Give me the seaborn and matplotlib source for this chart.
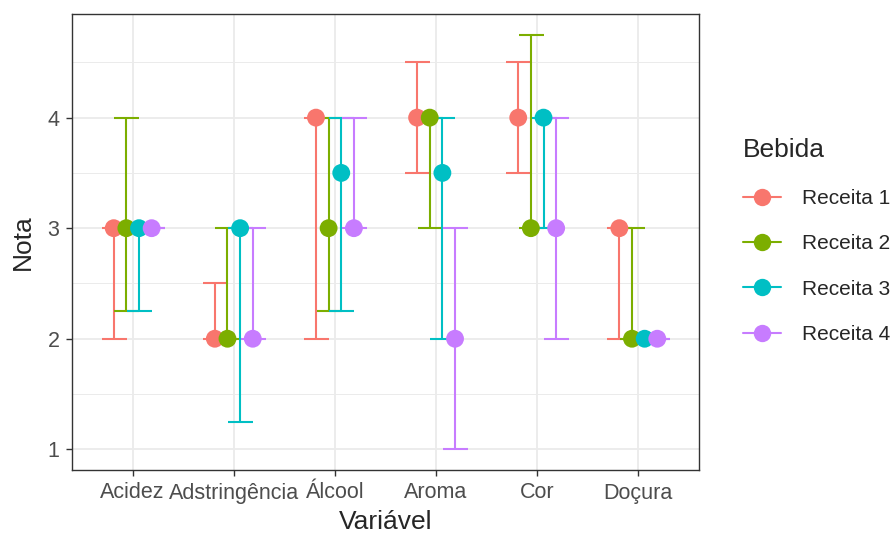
import matplotlib
matplotlib.use('Agg')
import matplotlib.pyplot as plt
from matplotlib.lines import Line2D
from matplotlib.ticker import MultipleLocator
import numpy as np
import pandas as pd
import seaborn as sns

sns.set_style('white')
plt.rcParams['font.family'] = ['Liberation Sans', 'DejaVu Sans']

# dados
variaveis = ['Acidez', 'Adstringência', 'Álcool', 'Aroma', 'Cor', 'Doçura']
receitas = ['Receita 1', 'Receita 2', 'Receita 3', 'Receita 4']
cores = ['#F8766D', '#7CAE00', '#00BFC4', '#C77CFF']

mediana = {
    'Receita 1': [3, 2, 4, 4, 4, 3],
    'Receita 2': [3, 2, 3, 4, 3, 2],
    'Receita 3': [3, 3, 3.5, 3.5, 4, 2],
    'Receita 4': [3, 2, 3, 2, 3, 2],
}
inferior = {
    'Receita 1': [2, 2, 2, 3.5, 3.5, 2],
    'Receita 2': [2.25, 2, 2.25, 3, 3, 2],
    'Receita 3': [2.25, 1.25, 2.25, 2, 3, 2],
    'Receita 4': [3, 2, 3, 1, 2, 2],
}
superior = {
    'Receita 1': [3, 2.5, 4, 4.5, 4.5, 3],
    'Receita 2': [4, 3, 4, 4, 4.75, 3],
    'Receita 3': [3, 3, 4, 4, 4, 2],
    'Receita 4': [3, 3, 4, 3, 4, 2],
}

linhas = []
for r in receitas:
    for i, v in enumerate(variaveis):
        linhas.append({'Variável': v, 'Bebida': r, 'Nota': mediana[r][i],
                       'lo': inferior[r][i], 'hi': superior[r][i]})
df = pd.DataFrame(linhas)

# dodge (largura 0.5)
largura = 0.5
desloc = {r: -largura / 2 + largura / len(receitas) * (k + 0.5) for k, r in enumerate(receitas)}
df['x'] = df['Variável'].map({v: i for i, v in enumerate(variaveis)}) + df['Bebida'].map(desloc)

fig = plt.figure(figsize=(8.96, 5.35), dpi=100)
ax = fig.add_axes([72 / 896, 1 - 470 / 535, (699 - 72) / 896, (470 - 14) / 535])

paleta = dict(zip(receitas, cores))
for r in receitas:
    d = df[df['Bebida'] == r]
    ax.errorbar(d['x'], d['Nota'], yerr=[d['Nota'] - d['lo'], d['hi'] - d['Nota']],
                fmt='none', ecolor=paleta[r], elinewidth=1.5, capsize=9, capthick=1.5, zorder=2)

sns.scatterplot(data=df, x='x', y='Nota', hue='Bebida', palette=paleta, s=165,
                linewidth=0, legend=False, ax=ax, zorder=3)

ax.set_xlim(0.4 - 1, 6.6 - 1)
ax.set_ylim(0.8125, 4.9375)
ax.set_xticks(range(len(variaveis)))
ax.set_xticklabels(variaveis)
ax.yaxis.set_major_locator(MultipleLocator(1))
ax.yaxis.set_minor_locator(MultipleLocator(0.5))
ax.grid(True, which='major', color='#EBEBEB', linewidth=1.3, zorder=0)
ax.grid(True, which='minor', axis='y', color='#EBEBEB', linewidth=0.7, zorder=0)
ax.set_axisbelow(True)
for s in ax.spines.values():
    s.set_color('#333333')
    s.set_linewidth(1.0)
ax.tick_params(axis='both', which='major', length=4, width=1.0, color='#333333',
               labelsize=15.5, labelcolor='#4D4D4D', pad=5, left=True, bottom=True)
ax.tick_params(axis='y', which='minor', length=0)
ax.set_xlabel('Variável', fontsize=19, labelpad=5)
ax.set_ylabel('Nota', fontsize=19, labelpad=9)

handles = [Line2D([0], [0], color=c, linewidth=1.5, marker='o', markersize=12.5, markeredgewidth=0)
           for c in cores]
leg = fig.legend(handles, receitas, title='Bebida', loc='upper left', bbox_to_anchor=(735 / 896, 1 - 130 / 535),
                 frameon=False, fontsize=15, title_fontsize=19, handlelength=1.8, labelspacing=1.27,
                 handletextpad=1.0, borderaxespad=0)
leg._legend_box.align = 'left'

fig.savefig('out.png', dpi=100)
